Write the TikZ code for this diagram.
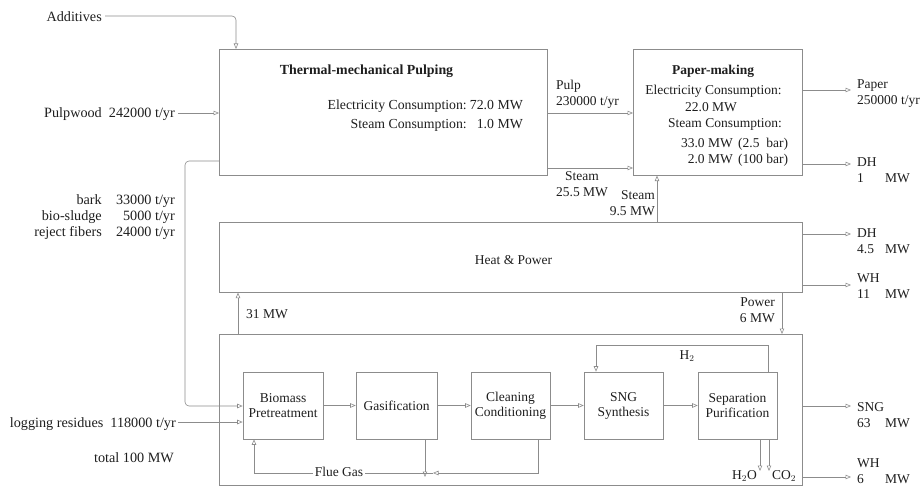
\documentclass[tikz,border=0pt]{standalone}
\usepackage{fontspec}
\setmainfont{Liberation Serif}
\usetikzlibrary{arrows.meta,calc}
\definecolor{linegray}{HTML}{8C8C8C}
\definecolor{txt}{HTML}{1E1E1E}
\begin{document}
\begin{tikzpicture}[x=1pt,y=-1pt,
  font=\fontsize{13.5}{16}\selectfont, text=txt,
  box/.style={draw=linegray, line width=0.6pt, rectangle, inner sep=0pt},
  sub/.style={box, minimum width=80pt, minimum height=67pt, align=center,
    font=\fontsize{13.5}{15}\selectfont},
  flow/.style={draw=linegray, line width=0.6pt, -{Triangle[open,length=5.5pt,width=4.5pt]}},
  plain/.style={draw=linegray, line width=0.6pt},
  lbl/.style={inner sep=0pt},
  side/.style={inner sep=0pt, font=\fontsize{14.2}{16}\selectfont},
  big/.style={inner sep=0pt, font=\fontsize{13.8}{18}\selectfont},
  two/.style={inner sep=0pt, align=left, anchor=west}]
\useasboundingbox (0,0) rectangle (923,486);

% ---------- main boxes
\node[box, minimum width=328pt, minimum height=126pt, anchor=north west] (tmp) at (219,49) {};
\node[box, minimum width=169pt, minimum height=126pt, anchor=north west] (pm) at (633,49) {};
\node[box, minimum width=583pt, minimum height=70pt, anchor=north west] (hp) at (219,222) {};
\node[box, minimum width=583pt, minimum height=151pt, anchor=north west] (sngp) at (219,334) {};

% ---------- TMP texts
\node[lbl, anchor=base, font=\fontsize{13.9}{16}\selectfont\bfseries] (tmpT) at (366.5,74.5) {Thermal-mechanical Pulping};
\node[big, anchor=base east] (tmpE1) at (467,110) {Electricity Consumption:};
\node[big, anchor=base east] (tmpE2) at (523,110) {72.0 MW};
\node[big, anchor=base east] (tmpS1) at (467,129) {Steam Consumption:};
\node[big, anchor=base east] (tmpS2) at (523,129) {1.0 MW};

% ---------- Paper-making texts
\node[lbl, anchor=base, font=\fontsize{13.5}{16}\selectfont\bfseries] (pmT) at (713,74.5) {Paper-making};
\node[lbl, anchor=base] (pmE1) at (713.5,94.5) {Electricity Consumption:};
\node[lbl, anchor=base west] (pmE2) at (685,111.5) {22.0 MW};
\node[lbl, anchor=base east] (pmS1) at (782,127.5) {Steam Consumption:};
\node[lbl, anchor=base east] (pmS2) at (733,148) {33.0 MW};
\node[lbl, anchor=base west] (pmS3) at (738,148) {(2.5\ \ bar)};
\node[lbl, anchor=base east] (pmS4) at (733,164) {2.0 MW};
\node[lbl, anchor=base west] (pmS5) at (738,164) {(100 bar)};

% ---------- Heat & Power
\node[lbl, anchor=base] (hpT) at (513.5,265) {Heat \& Power};

% ---------- sub-processes
\node[sub] (bp) at (283,405.5) {Biomass\\Pretreatment};
\node[sub, minimum width=81pt] (gas) at (396.5,405.5) {Gasification};
\node[sub, minimum width=79pt] (cc) at (510.5,405.5) {Cleaning\\Conditioning};
\node[sub, minimum width=79pt] (syn) at (623.5,405.5) {SNG\\Synthesis};
\node[sub, minimum width=79pt] (sep) at (737.5,405.5) {Separation\\Purification};

% ---------- left labels
\node[side, anchor=base east] (addT) at (102,22) {Additives};
\node[side, anchor=base east] (pwT) at (175,117.5) {Pulpwood\ \ 242000 t/yr};
\node[side, anchor=base east] (barkA) at (102,205) {bark};
\node[side, anchor=base east] (barkB) at (175,205) {33000 t/yr};
\node[side, anchor=base east] (bsA) at (102,221) {bio-sludge};
\node[side, anchor=base east] (bsB) at (175,221) {5000 t/yr};
\node[side, anchor=base east] (rfA) at (102,237) {reject fibers};
\node[side, anchor=base east] (rfB) at (175,237) {24000 t/yr};
\node[side, anchor=base east] (lrT) at (176,427.5) {logging residues\ \ 118000 t/yr};
\node[side, anchor=base east] (totT) at (174,462.5) {total 100 MW};

% ---------- connector end points
\coordinate (addS) at (105,16);
\coordinate (pwS) at (178,113);
\coordinate (lrS) at (178,422);
\coordinate (oPaper) at (851,90);
\coordinate (oDH1) at (851,164);
\coordinate (oDH2) at (851,234);
\coordinate (oWH1) at (851,285);
\coordinate (oSNG) at (851,406);
\coordinate (oWH2) at (851,477);
\coordinate (fgJ) at (425,473);

% ---------- inputs
\draw[flow, rounded corners=4pt] (addS) -| ([xshift=17pt]tmp.north west);
\draw[flow] (pwS) -- (tmp.west |- pwS);
\draw[flow, rounded corners=4pt] (tmp.west |- 0,161) -- (185,161) -- (185,406) -- (bp.west |- 0,406);
\draw[flow] (lrS) -- (bp.west |- lrS);

% ---------- TMP -> paper-making
\draw[flow] (tmp.east |- 0,113) -- (pm.west |- 0,113);
\draw[flow] (tmp.east |- 0,168) -- (pm.west |- 0,168);
\node[lbl, align=left, anchor=west] (pulpL) at (556,94) {Pulp\\230000 t/yr};
\node[lbl, align=center] (stL) at (582,184) {Steam\\25.5 MW};

% ---------- heat & power -> paper-making
\draw[flow] (hp.north -| 657,0) -- (pm.south -| 657,0);
\node[lbl, align=right, anchor=east] (st2L) at (655,203) {Steam\\9.5 MW};

% ---------- outputs
\draw[flow] (pm.east |- oPaper) -- (oPaper);
\node[two] (paperL) at (857,94) {Paper\\250000 t/yr};
\draw[flow] (pm.east |- oDH1) -- (oDH1);
\node[two] (dh1L) at (857,170) {DH\\\makebox[28pt][l]{1}MW};
\draw[flow] (hp.east |- oDH2) -- (oDH2);
\node[two] (dh2L) at (857,241) {DH\\\makebox[28pt][l]{4.5}MW};
\draw[flow] (hp.east |- oWH1) -- (oWH1);
\node[two] (wh1L) at (857,286) {WH\\\makebox[28pt][l]{11}MW};
\draw[flow] (sngp.east |- oSNG) -- (oSNG);
\node[two] (sngL) at (857,415) {SNG\\\makebox[28pt][l]{63}MW};
\draw[flow] (sngp.east |- oWH2) -- (oWH2);
\node[two] (wh2L) at (857,471) {WH\\\makebox[28pt][l]{6}MW};

% ---------- heat & power <-> SNG plant
\draw[flow] (sngp.north -| 238,0) -- (hp.south -| 238,0);
\node[lbl, anchor=base west] (p31) at (246,318.5) {31 MW};
\draw[flow] (hp.south -| 782,0) -- (sngp.north -| 782,0);
\node[lbl, align=right, anchor=east] (powL) at (775,310) {Power\\6 MW};

% ---------- SNG chain
\draw[flow] (bp.east) -- (gas.west);
\draw[flow] (gas.east) -- (cc.west);
\draw[flow] (cc.east) -- (syn.west);
\draw[flow] (syn.east) -- (sep.west);

% H2 recycle
\draw[flow] (sep.north -| 768,0) |- (596,345) -- (syn.north -| 596,0);
\node[lbl] (h2L) at (687,356) {H$_2$};

% H2O / CO2
\draw[flow] (sep.south -| 760,0) -- (760,471);
\draw[flow] (sep.south -| 769,0) -- (769,471);
\node[lbl, anchor=base east] (h2oL) at (757,479) {H$_2$O};
\node[lbl, anchor=base west] (co2L) at (772,479) {CO$_2$};

% flue gas
\draw[flow] (gas.south -| fgJ) -- ([yshift=-4pt]fgJ);
\draw[flow] (cc.south -| 538,0) |- ([xshift=8pt]fgJ);
\draw[flow] ([xshift=8pt]fgJ) -| (bp.south -| 254,0);
\node[lbl, fill=white, inner xsep=2pt, inner ysep=1pt] (fgL) at (339,472) {Flue Gas};
\end{tikzpicture}
\end{document}
